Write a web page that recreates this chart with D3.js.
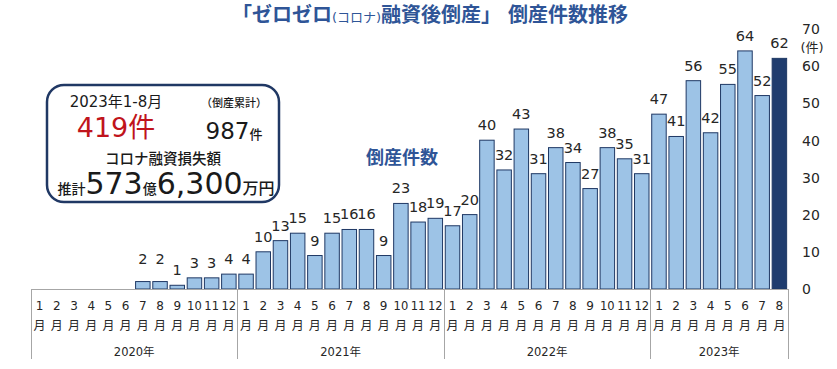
<!DOCTYPE html>
<html><head><meta charset="utf-8">
<script src="https://cdn.jsdelivr.net/npm/d3@7"></script>
<style>
html,body{margin:0;padding:0;background:#fff;}
svg{display:block;}
text{font-family:"DejaVu Sans","Noto Sans CJK JP",sans-serif;}
</style></head>
<body><svg id="c" width="837" height="369"></svg>
<script>
const years = ["2020年","2021年","2022年","2023年"];
const monthsPerYear = [12,12,12,8];
const months = ["1","2","3","4","5","6","7","8","9","10","11","12"];
const values2020 = [0,0,0,0,0,0,2,2,1,3,3,4];
const values2021 = [4,10,13,15,9,15,16,16,9,23,18,19];
const values2022 = [17,20,40,32,43,31,38,34,27,38,35,31];
const values2023 = [47,41,56,42,55,64,52,62];
const yTicks = [0,10,20,30,40,50,60,70];

const series = [values2020,values2021,values2022,values2023];
const data = [];
series.forEach((arr,yi)=>arr.forEach((v,mi)=>data.push({year:yi,month:months[mi],value:v,idx:data.length})));

const svg = d3.select("#c");
const x = d3.scaleBand().domain(data.map(d=>d.idx)).range([31,788]).paddingInner(0.1).paddingOuter(0.05);
const y = d3.scaleLinear().domain([0,70]).range([289,28.6]);

// bars
const lastIdx = data.length-1;
svg.append("g").selectAll("rect").data(data.filter(d=>d.value>0)).join("rect")
  .attr("x",d=>x(d.idx)+0.5).attr("y",d=>y(d.value))
  .attr("width",x.bandwidth()-1).attr("height",d=>y(0)-y(d.value))
  .attr("fill",d=>d.idx===lastIdx?"#1F3C6E":"#9DC3E6")
  .attr("stroke","#1F3864").attr("stroke-width",1);

// value labels (small nudge for crowded early labels)
const nudge = {6:-8,7:-8};
svg.append("g").selectAll("text").data(data.filter(d=>d.value>0)).join("text")
  .attr("x",d=>x(d.idx)+x.bandwidth()/2)
  .attr("y",d=>y(d.value)-10+(nudge[d.idx]||0))
  .attr("text-anchor","middle").attr("font-size",14.5).attr("fill","#262626")
  .text(d=>d.value);

// right axis
const yAxis = d3.axisRight(y).tickValues(yTicks).tickSize(0).tickPadding(0);
const ga = svg.append("g").attr("transform","translate(802,0)").call(yAxis);
ga.select(".domain").remove();
ga.selectAll("text").attr("font-size",14).attr("fill","#262626").attr("font-family","DejaVu Sans, Noto Sans CJK JP, sans-serif").attr("dy","0.35em");
svg.append("text").attr("x",812).attr("y",52).attr("text-anchor","middle").attr("font-size",13).attr("fill","#262626").text("(件)");

// category table
const grid = svg.append("g").attr("stroke","#A6A6A6").attr("stroke-width",1);
grid.append("line").attr("x1",31).attr("x2",788).attr("y1",289.5).attr("y2",289.5);
let start=0; const bounds=[31];
monthsPerYear.forEach(n=>{start+=n; bounds.push(start===data.length?788:x(start)-x.step()*x.paddingInner()/2);});
bounds.forEach(b=>grid.append("line").attr("x1",Math.round(b)+0.5).attr("x2",Math.round(b)+0.5).attr("y1",289).attr("y2",359));

const mg = svg.append("g").attr("font-size",12).attr("fill","#262626").attr("text-anchor","middle");
mg.selectAll("text.m").data(data).join("text").attr("class","m")
  .attr("x",d=>x(d.idx)+x.bandwidth()/2).attr("y",310).attr("font-size",d=>d.month.length>1?11.5:12).text(d=>d.month);
mg.selectAll("text.g").data(data).join("text").attr("class","g")
  .attr("x",d=>x(d.idx)+x.bandwidth()/2).attr("y",330).attr("font-family","Noto Sans CJK JP").text("月");
svg.append("g").selectAll("text").data(years).join("text")
  .attr("x",(d,i)=>(bounds[i]+bounds[i+1])/2).attr("y",356).attr("text-anchor","middle")
  .attr("font-size",11.5).attr("fill","#262626").text(d=>d);

// title
const t = svg.append("text").attr("x",430).attr("y",22).attr("text-anchor","middle")
  .attr("font-family","Noto Sans CJK JP").attr("font-weight","bold").attr("fill","#2F5597").attr("font-size",20);
t.append("tspan").text("「ゼロゼロ");
t.append("tspan").attr("font-size",13).attr("font-weight","normal").text("(コロナ)");
t.append("tspan").text("融資後倒産」 倒産件数推移");

svg.append("text").attr("x",402).attr("y",164).attr("text-anchor","middle")
  .attr("font-family","Noto Sans CJK JP").attr("font-weight","bold").attr("fill","#2F5597").attr("font-size",18).text("倒産件数");

// info box
svg.append("rect").attr("x",47).attr("y",85).attr("width",232).attr("height",117).attr("rx",17)
  .attr("fill","#fff").attr("stroke","#203864").attr("stroke-width",2.5);
const jp = "Noto Sans CJK JP";
svg.append("text").attr("x",116).attr("y",107).attr("text-anchor","middle").attr("fill","#1a1a1a")
  .attr("font-size",15).text("2023年1-8月");
svg.append("text").attr("x",234).attr("y",107).attr("text-anchor","middle").attr("font-size",11).attr("fill","#1a1a1a").attr("font-family",jp).attr("font-weight",500).text("（倒産累計）");
svg.append("text").attr("x",116).attr("y",137).attr("text-anchor","middle").attr("fill","#C0141C")
  .attr("font-size",27).text("419件");
const c = svg.append("text").attr("x",234).attr("y",139).attr("text-anchor","middle").attr("fill","#1a1a1a");
c.append("tspan").attr("font-size",23).text("987");
c.append("tspan").attr("font-size",13).attr("font-family",jp).attr("font-weight",500).text("件");
svg.append("text").attr("x",163).attr("y",164).attr("text-anchor","middle").attr("font-size",14.5).attr("fill","#1a1a1a").attr("font-family",jp).attr("font-weight",500).text("コロナ融資損失額");
const l = svg.append("text").attr("x",166).attr("y",194).attr("text-anchor","middle").attr("fill","#1a1a1a");
l.append("tspan").attr("font-size",14).attr("font-family",jp).attr("font-weight",500).text("推計");
l.append("tspan").attr("font-size",30).text("573");
l.append("tspan").attr("font-size",14).attr("font-family",jp).attr("font-weight",500).text("億");
l.append("tspan").attr("font-size",30).text("6,300");
l.append("tspan").attr("font-size",16).attr("font-family",jp).attr("font-weight",500).text("万円");
</script></body></html>
